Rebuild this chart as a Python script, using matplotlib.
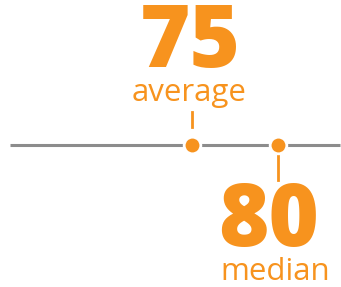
import matplotlib
matplotlib.use("Agg")
import matplotlib.pyplot as plt

# summary stats shown on the number line
labels = ["average", "median"]
values = [75, 80]
line_lo, line_hi = 64.4, 83.6

orange = "#F7931E"
grey = "#8C8C8C"

plt.rcParams['font.family'] = ['Open Sans', 'DejaVu Sans']

fig = plt.figure(figsize=(3.41, 2.87), dpi=100)
ax = fig.add_axes([0, 0, 1, 1])
ax.set_xlim(63.84, 83.67)
ax.set_ylim(287, 0)
ax.axis('off')

ax.plot([line_lo, line_hi], [145, 145], color=grey, lw=2.2, solid_capstyle='butt', zorder=1)
ax.plot(values, [145, 145], 'o', color=orange, ms=12, mec='white', mew=2, zorder=3)

# average above the line
ax.plot([values[0], values[0]], [112, 127], color=orange, lw=2)
ax.text(values[0] - 0.1, 67, str(values[0]), ha='center', va='baseline',
        fontsize=62, fontweight='heavy', color=orange)
ax.text(values[0] - 0.15, 101, labels[0], ha='center', va='baseline',
        fontsize=22.5, color=orange)

# median below the line
ax.plot([values[1], values[1]], [155, 180], color=orange, lw=2)
ax.text(values[1] - 0.55, 246, str(values[1]), ha='center', va='baseline',
        fontsize=62, fontweight='heavy', color=orange)
ax.text(values[1] - 0.15, 280, labels[1], ha='center', va='baseline',
        fontsize=22.5, color=orange)

fig.savefig("out.png", dpi=100)
